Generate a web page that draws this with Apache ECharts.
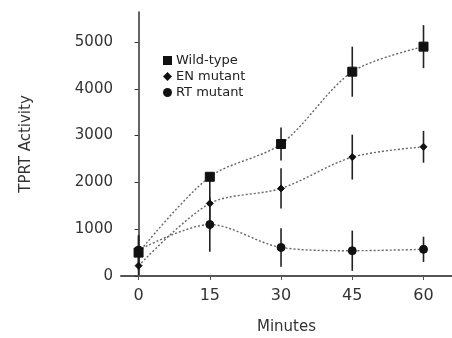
<!DOCTYPE html>
<html>
<head>
<meta charset="utf-8">
<script src="https://cdn.jsdelivr.net/npm/echarts@6/dist/echarts.min.js"></script>
<style>html,body{margin:0;padding:0;background:#fff}#c{width:452px;height:338px}</style>
</head>
<body>
<div id="c"></div>
<script>
const minutes = [0, 15, 30, 45, 60];
const wildType = [500, 2120, 2820, 4365, 4900];
const wildTypeErr = [380, 0, 350, 535, 460];
const enMutant = [220, 1550, 1870, 2540, 2760];
const enMutantErr = [200, 570, 430, 480, 340];
const rtMutant = [555, 1100, 610, 540, 570];
const rtMutantErr = [300, 580, 410, 430, 270];
const xTicks = [0, 15, 30, 45, 60];
const yTicks = [0, 1000, 2000, 3000, 4000, 5000];
const seriesNames = ['Wild-type', 'EN mutant', 'RT mutant'];

const FONT = 'DejaVu Sans';
const chart = echarts.init(document.getElementById('c'));

function pairs(ys) { return minutes.map((m, i) => [m, ys[i]]); }
function errData(ys, es) { return minutes.map((m, i) => [m, ys[i] - es[i], ys[i] + es[i]]); }

function errSeries(ys, es) {
  return {
    type: 'custom',
    silent: true,
    z: 1,
    data: errData(ys, es),
    renderItem: function (params, api) {
      const lo = api.coord([api.value(0), api.value(1)]);
      const hi = api.coord([api.value(0), api.value(2)]);
      return {
        type: 'line',
        shape: { x1: lo[0], y1: lo[1], x2: hi[0], y2: hi[1] },
        style: { stroke: '#222', lineWidth: 1.6 }
      };
    }
  };
}

function lineSeries(name, ys, symbol, size) {
  return {
    name: name,
    type: 'line',
    smooth: 0.3,
    z: 3,
    data: pairs(ys),
    symbol: symbol,
    symbolSize: size,
    showAllSymbol: true,
    lineStyle: { color: '#666', width: 1.4, type: [2, 2] },
    itemStyle: { color: '#111', borderColor: '#111' },
    emphasis: { disabled: true }
  };
}

chart.setOption({
  animation: false,
  backgroundColor: '#fff',
  grid: { left: 121, right: 0, top: 12, bottom: 62, containLabel: false, outerBoundsMode: 'none' },
  legend: {
    orient: 'vertical',
    left: 158,
    top: 49,
    itemGap: 3,
    itemWidth: 9,
    itemHeight: 9,
    textStyle: { fontFamily: FONT, fontSize: 13, color: '#222', padding: [0, 0, 0, -1] },
    data: [
      { name: seriesNames[0], icon: 'rect' },
      { name: seriesNames[1], icon: 'diamond' },
      { name: seriesNames[2], icon: 'circle' }
    ]
  },
  xAxis: {
    type: 'value',
    min: -3.7,
    max: 66,
    name: 'Minutes',
    nameLocation: 'middle',
    nameGap: 44,
    nameTextStyle: { fontFamily: FONT, fontSize: 15, color: '#333' },
    axisLine: { lineStyle: { color: '#555', width: 2 } },
    axisTick: { show: true, length: 4, customValues: xTicks, lineStyle: { color: '#555' } },
    axisLabel: { customValues: xTicks, fontFamily: FONT, fontSize: 16, color: '#333', margin: 12 },
    splitLine: { show: false }
  },
  yAxis: {
    type: 'value',
    min: 0,
    max: 5640,
    name: 'TPRT Activity',
    nameLocation: 'middle',
    nameGap: 87,
    nameRotate: 90,
    nameTextStyle: { fontFamily: FONT, fontSize: 15, color: '#333' },
    axisLine: { show: true, lineStyle: { color: '#333', width: 1.5 } },
    axisTick: { show: true, length: 4, customValues: yTicks, lineStyle: { color: '#333' } },
    axisLabel: { customValues: yTicks, formatter: v => String(v), fontFamily: FONT, fontSize: 15, color: '#333', margin: 8 },
    splitLine: { show: false }
  },
  series: [
    errSeries(wildType, wildTypeErr),
    errSeries(enMutant, enMutantErr),
    errSeries(rtMutant, rtMutantErr),
    lineSeries(seriesNames[0], wildType, 'rect', 9),
    lineSeries(seriesNames[1], enMutant, 'diamond', 7),
    lineSeries(seriesNames[2], rtMutant, 'circle', 8)
  ]
});
</script>
</body>
</html>
